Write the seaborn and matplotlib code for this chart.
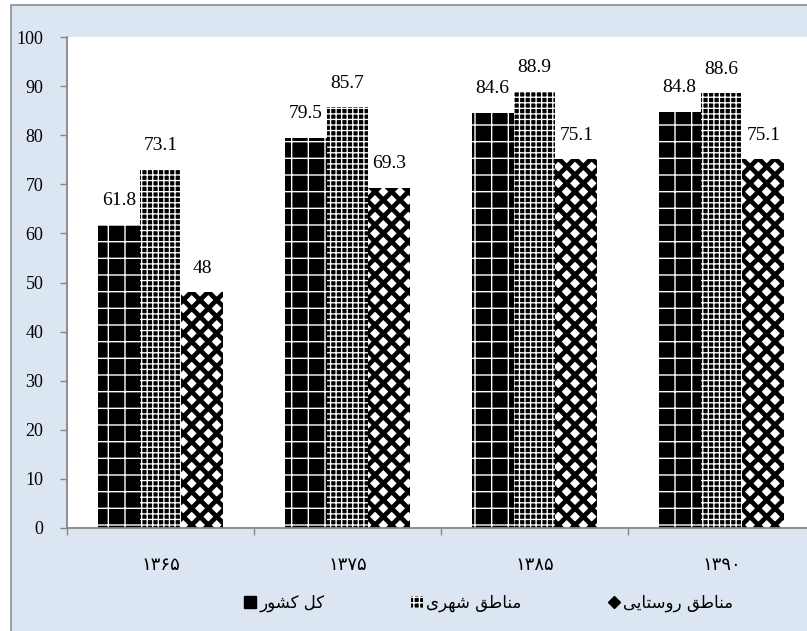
import matplotlib
matplotlib.use('Agg')
import matplotlib.pyplot as plt
import seaborn as sns
import pandas as pd
from matplotlib.patches import Patch, Rectangle
from matplotlib.lines import Line2D
from matplotlib.ticker import FixedLocator

# ---------------- data ----------------
years = ['\u06F1\u06F3\u06F6\u06F5', '\u06F1\u06F3\u06F7\u06F5',
         '\u06F1\u06F3\u06F8\u06F5', '\u06F1\u06F3\u06F9\u06F0']
# series names (Persian, pre-shaped into visual order for rendering)
s_total = '\uFEAD\uFEEE\uFEB8\uFB90 \uFEDE\uFB90'                          # کل کشور
s_urban = '\uFBFC\uFEAE\uFEEC\uFEB7 \uFED6\uFEC3\uFE8E\uFEE8\uFEE3'        # مناطق شهری
s_rural = '\uFBFD\uFBFE\uFE8E\uFE98\uFEB3\uFEED\uFEAD \uFED6\uFEC3\uFE8E\uFEE8\uFEE3'  # مناطق روستایی
series = [s_total, s_urban, s_rural]
total = [61.8, 79.5, 84.6, 84.8]
urban = [73.1, 85.7, 88.9, 88.6]
rural = [48, 69.3, 75.1, 75.1]
yticks = [0, 10, 20, 30, 40, 50, 60, 70, 80, 90, 100]

df = pd.DataFrame({
    'year': years * 3,
    'series': [s_total] * 4 + [s_urban] * 4 + [s_rural] * 4,
    'value': total + urban + rural,
})

# ---------------- style ----------------
W, H = 807, 631
fig = plt.figure(figsize=(W / 100, H / 100), dpi=100)
fig.patch.set_facecolor('white')
bg = Rectangle((11 / W, -0.01), 1.0, 1 - 5 / H + 0.01, transform=fig.transFigure,
               facecolor='#DCE6F2', edgecolor='#8C8C8C', linewidth=1.2, zorder=-5)
fig.add_artist(bg)

ax = fig.add_axes([67 / W, 1 - 528 / H, 748 / W, 491 / H])
ax.set_facecolor('white')

sns.barplot(data=df, x='year', y='value', hue='series', order=years,
            hue_order=series, width=0.67, errorbar=None,
            palette=['#111111', '#222222', '#333333'], legend=False, ax=ax)

styles = {
    s_total: dict(face='black', hatch='+', hc='white', hlw=1.0),
    s_urban: dict(face='black', hatch='+++', hc='white', hlw=0.95),
    s_rural: dict(face='white', hatch='xx', hc='black', hlw=3.4),
}

serif = ['Liberation Serif', 'DejaVu Serif']
arab = ['DejaVu Sans']

for name, cont in zip(series, ax.containers):
    st = styles[name]
    for p in cont:
        p.set_facecolor(st['face'])
        p.set_edgecolor(st['hc'])
        p.set_hatch(st['hatch'])
        p.set_linewidth(0)
        if hasattr(p, 'set_hatch_linewidth'):
            p.set_hatch_linewidth(st['hlw'])
    ax.bar_label(cont, fmt='%g', padding=11, fontsize=14, family=serif)

ax.set_ylim(0, 100)
ax.set_xlim(-0.5, 3.5)
ax.set_yticks(yticks)
ax.set_yticklabels([str(v) for v in yticks], family=serif, fontsize=13)
ax.tick_params(axis='y', length=5, width=1, color='#868686', pad=12)
ax.tick_params(axis='x', which='major', length=0, pad=20)
ax.xaxis.set_minor_locator(FixedLocator([-0.5, 0.5, 1.5, 2.5, 3.5]))
ax.tick_params(axis='x', which='minor', length=5, width=1, color='#868686')
for lab in ax.get_xticklabels():
    lab.set_family(arab)
    lab.set_fontsize(13)
ax.set_xlabel('')
ax.set_ylabel('')
for s in ['top', 'right']:
    ax.spines[s].set_visible(False)
for s in ['left', 'bottom']:
    ax.spines[s].set_color('#868686')
    ax.spines[s].set_linewidth(1.3)

h_total = Line2D([], [], marker='s', color='black', linestyle='none', markersize=8)
h_urban = Patch(facecolor='black', edgecolor='white', hatch='+++', linewidth=0)
if hasattr(h_urban, 'set_hatch_linewidth'):
    h_urban.set_hatch_linewidth(1.2)
h_rural = Line2D([], [], marker='D', color='black', linestyle='none', markersize=6.5)
handles = [h_total, h_urban, h_rural]
leg = fig.legend(handles, series, loc='center', bbox_to_anchor=(489 / W, 1 - 603 / H),
                 ncol=3, frameon=False, prop={'family': arab, 'size': 12},
                 handlelength=0.7, handleheight=0.7, handletextpad=0.2,
                 columnspacing=5.2)

fig.savefig('out.png', dpi=100)
